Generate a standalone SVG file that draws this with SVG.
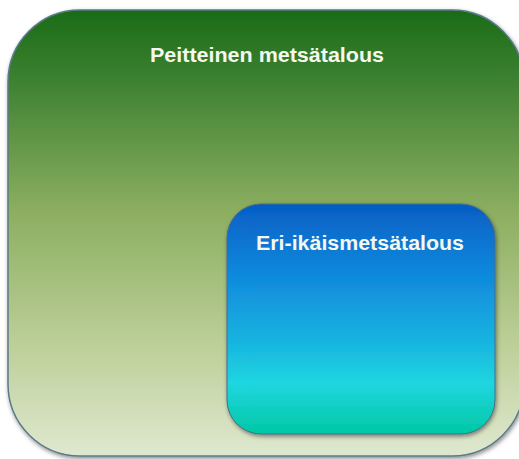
<svg xmlns="http://www.w3.org/2000/svg" width="519" height="459" viewBox="0 0 519 459">
<defs>
<linearGradient id="gOuter" x1="0" y1="0" x2="0" y2="1">
<stop offset="0" stop-color="#1b6b17"/>
<stop offset="0.15" stop-color="#3b8030"/>
<stop offset="0.45" stop-color="#8cae60"/>
<stop offset="0.75" stop-color="#bccf98"/>
<stop offset="1" stop-color="#dfe8cf"/>
</linearGradient>
<linearGradient id="gInner" x1="0" y1="0" x2="0" y2="1">
<stop offset="0" stop-color="#055ec4"/>
<stop offset="0.3" stop-color="#1088dc"/>
<stop offset="0.6" stop-color="#17b4e0"/>
<stop offset="0.78" stop-color="#20d6e0"/>
<stop offset="1" stop-color="#00c8a4"/>
</linearGradient>
<filter id="sh" x="-10%" y="-10%" width="120%" height="120%">
<feDropShadow dx="1" dy="2" stdDeviation="2" flood-color="#000" flood-opacity="0.45"/>
</filter>
<style>
.lbl{font-family:"Liberation Sans","DejaVu Sans",sans-serif;font-weight:bold;fill:#f4f8ee;text-anchor:middle}
</style>
</defs>
<g id="outer">
<rect x="8" y="10" width="516" height="446" rx="72" ry="72" fill="url(#gOuter)" stroke="#5a7a8a" stroke-width="1.5" filter="url(#sh)"/>
<text class="lbl" x="267" y="62" font-size="21" textLength="234" lengthAdjust="spacingAndGlyphs">Peitteinen metsätalous</text>
</g>
<g id="inner">
<rect x="227" y="204" width="268" height="230" rx="34" ry="34" fill="url(#gInner)" stroke="#4a6a8a" stroke-width="1" filter="url(#sh)"/>
<text class="lbl" x="360" y="250" font-size="20" textLength="208" lengthAdjust="spacingAndGlyphs">Eri-ikäismetsätalous</text>
</g>
<g id="connectors"/>
</svg>
